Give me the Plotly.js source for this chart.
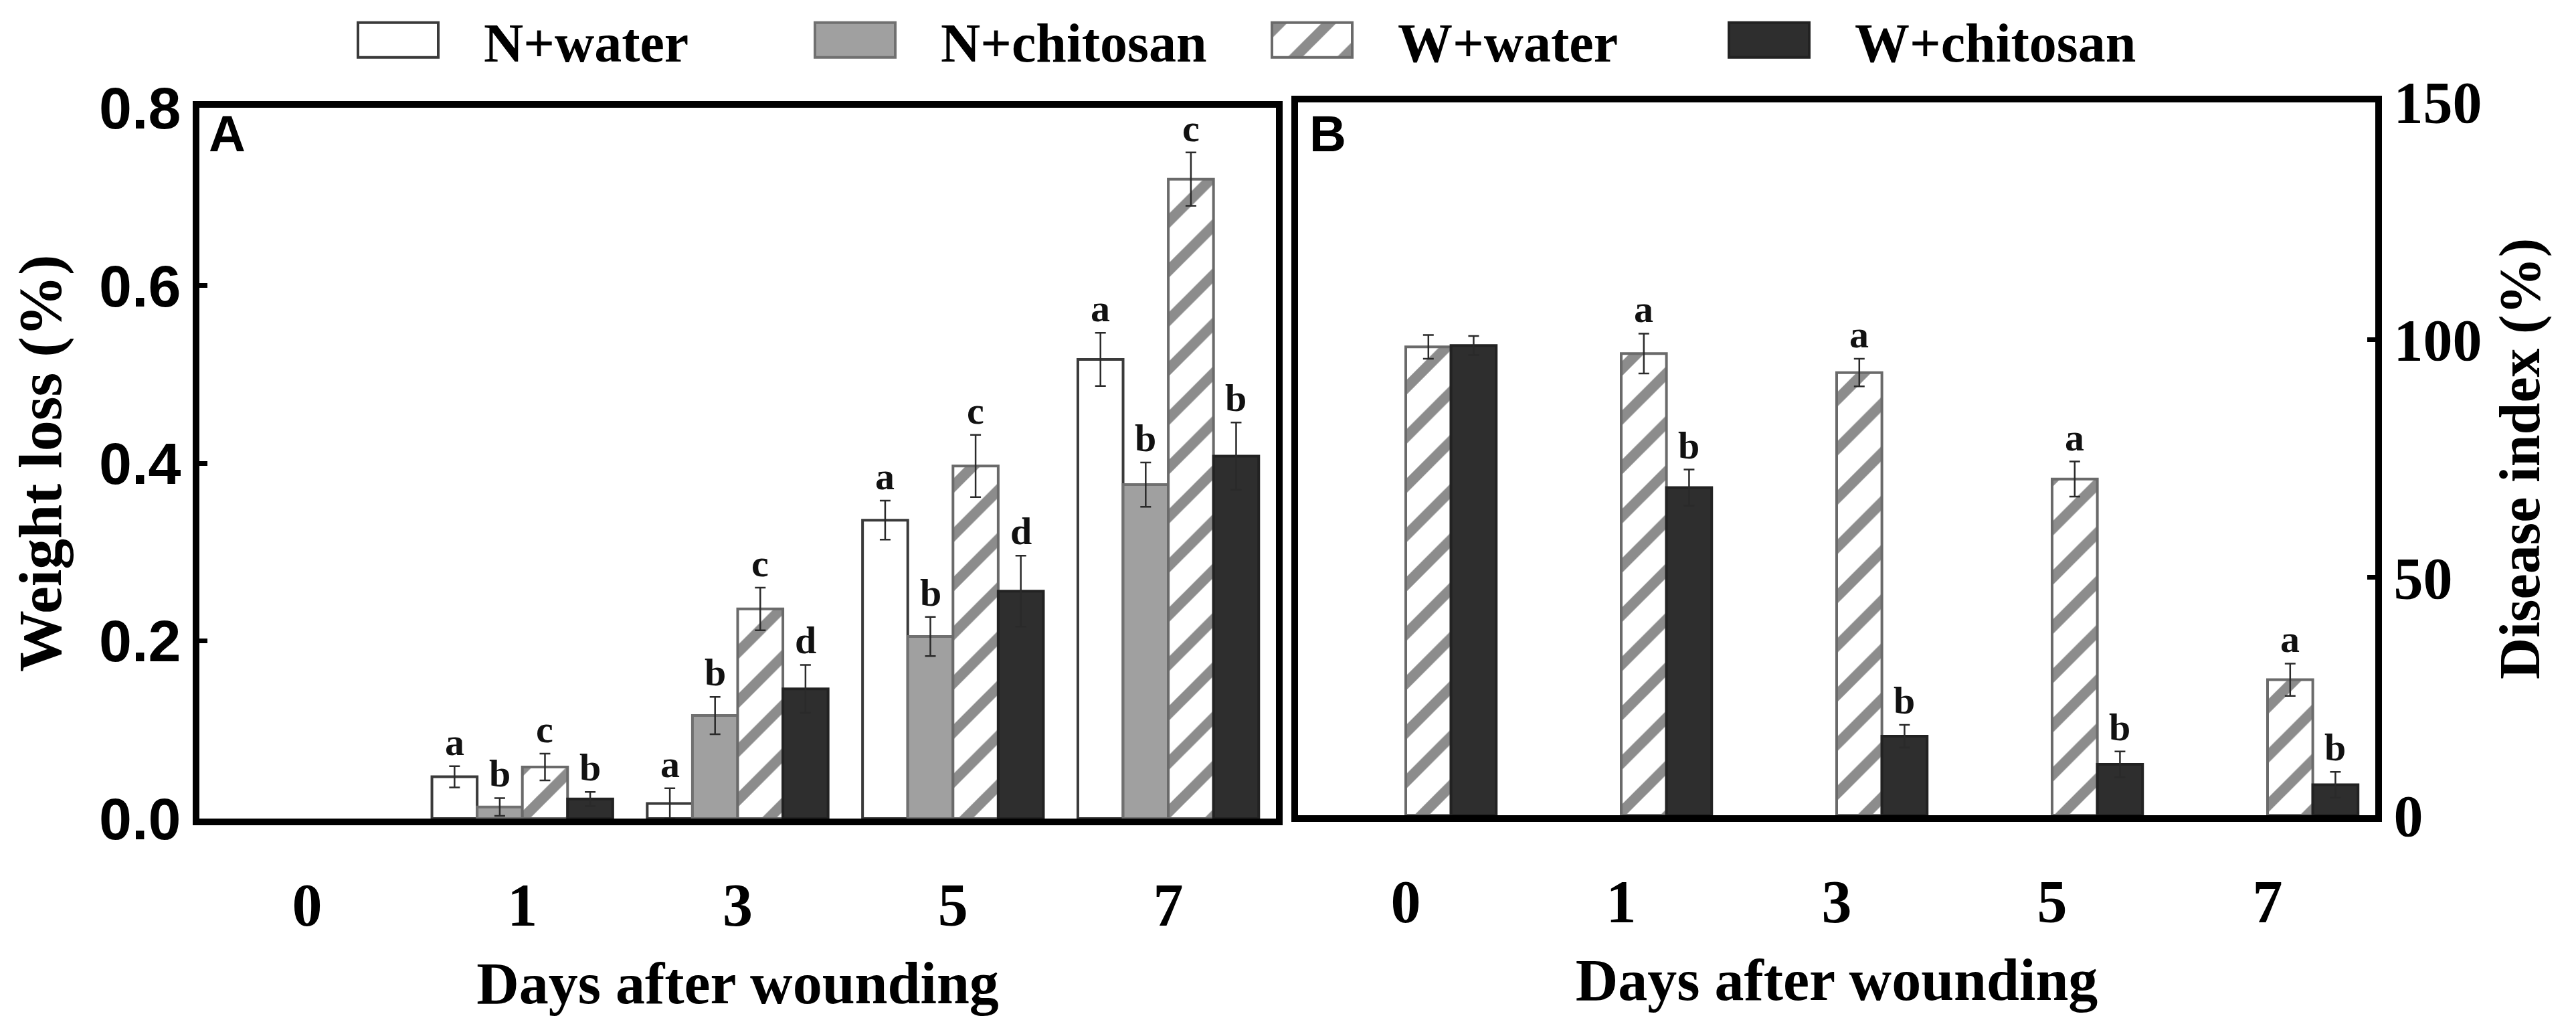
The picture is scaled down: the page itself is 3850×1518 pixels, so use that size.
<!DOCTYPE html>
<html>
<head>
<meta charset="utf-8">
<script src="https://cdn.plot.ly/plotly-3.0.1.min.js"></script>
<style>
  html, body { margin: 0; padding: 0; background: #fff; }
  #chart { width: 3850px; height: 1518px; }
</style>
</head>
<body>
<div id="chart"></div>
<script>
// days after wounding (categories)
var days = ["0", "1", "3", "5", "7"];
var seriesNames = ["N+water", "N+chitosan", "W+water", "W+chitosan"];

// A: weight loss (%), nothing drawn on day 0
var lossNWater = [null, 0.047, 0.017, 0.336, 0.517];
var lossNWaterErr = [null, 0.012, 0.017, 0.022, 0.030];
var lossNChitosan = [null, 0.013, 0.116, 0.205, 0.376];
var lossNChitosanErr = [null, 0.010, 0.021, 0.022, 0.025];
var lossWWater = [null, 0.058, 0.236, 0.397, 0.720];
var lossWWaterErr = [null, 0.015, 0.024, 0.035, 0.030];
var lossWChitosan = [null, 0.022, 0.146, 0.256, 0.408];
var lossWChitosanErr = [null, 0.008, 0.027, 0.040, 0.038];
var lossLetters = [
    ["", "a", "a", "a", "a"],
    ["", "b", "b", "b", "b"],
    ["", "c", "c", "c", "c"],
    ["", "b", "d", "d", "b"]
];

// B: disease index (%), no values for the N groups
var diseaseNWater = [null, null, null, null, null];
var diseaseNChitosan = [null, null, null, null, null];
var diseaseWWater = [98.5, 97.1, 93.1, 70.7, 28.5];
var diseaseWWaterErr = [2.5, 4.2, 2.9, 3.7, 3.4];
var diseaseWChitosan = [98.8, 68.9, 16.6, 10.7, 6.4];
var diseaseWChitosanErr = [2.0, 3.8, 2.4, 2.7, 2.7];
var diseaseLetters = [
    ["", "", "", "", ""],
    ["", "", "", "", ""],
    ["", "a", "a", "a", "a"],
    ["", "b", "b", "b", "b"]
];

var W = 3850, H = 1518;
var serif = "Liberation Serif, Times New Roman, serif";
var sans = "Liberation Sans, Arial, sans-serif";

var fills = ["#ffffff", "#a0a0a0", "#ffffff", "#2e2e2e"];
var edges = ["#3a3a3a", "#707070", "#6a6a6a", "#222222"];
var barGap = 0.16;

function px(x) { return x / W; }
function py(y) { return 1 - y / H; }

function marker(k)
{
    var m = { color: fills[k], line: { color: edges[k], width: 4 } };
    if (k == 2)
    {
        m.pattern = { shape: "/", fgcolor: "#8c8c8c", bgcolor: "#ffffff", size: 52, solidity: 0.3 };
    }
    return m;
}

function errorBar(values)
{
    return { type: "data", array: values, visible: true, color: "#2a2a2a", thickness: 2.5, width: 8 };
}

var lossValues = [lossNWater, lossNChitosan, lossWWater, lossWChitosan];
var lossErrors = [lossNWaterErr, lossNChitosanErr, lossWWaterErr, lossWChitosanErr];
var diseaseValues = [diseaseNWater, diseaseNChitosan, diseaseWWater, diseaseWChitosan];
var diseaseErrors = [[0, 0, 0, 0, 0], [0, 0, 0, 0, 0], diseaseWWaterErr, diseaseWChitosanErr];

var plotData = [];
for (var k = 0; k < 4; k++)
{
    plotData.push({
        type: "bar", name: seriesNames[k], x: days, y: lossValues[k],
        error_y: errorBar(lossErrors[k]),
        marker: marker(k), xaxis: "x", yaxis: "y", hoverinfo: "skip"
    });
}
for (var k = 0; k < 4; k++)
{
    plotData.push({
        type: "bar", name: seriesNames[k], x: days, y: diseaseValues[k],
        error_y: errorBar(diseaseErrors[k]),
        marker: marker(k), xaxis: "x2", yaxis: "y2", showlegend: false, hoverinfo: "skip"
    });
}

// significance letters above the error bars
var annotations = [];
var barWidth = (1 - barGap) / 4;
function addLetters(values, errors, letters, xref, yref)
{
    for (var k = 0; k < 4; k++)
    {
        for (var i = 0; i < days.length; i++)
        {
            if (!letters[k][i]) continue;
            annotations.push({
                xref: xref, yref: yref,
                x: i + (k - 1.5) * barWidth,
                y: values[k][i] + errors[k][i],
                text: letters[k][i], showarrow: false,
                yanchor: "bottom", yshift: 2,
                font: { family: serif, size: 58, weight: "bold", color: "#111" }
            });
        }
    }
}
addLetters(lossValues, lossErrors, lossLetters, "x", "y");
addLetters(diseaseValues, diseaseErrors, diseaseLetters, "x2", "y2");

annotations.push({ xref: "paper", yref: "paper", x: px(310), y: py(150), xanchor: "left", yanchor: "top",
    text: "A", showarrow: false, font: { family: sans, size: 76, weight: "bold", color: "#000" } });
annotations.push({ xref: "paper", yref: "paper", x: px(1955), y: py(150), xanchor: "left", yanchor: "top",
    text: "B", showarrow: false, font: { family: sans, size: 76, weight: "bold", color: "#000" } });

function xAxis(domain, anchor)
{
    return {
        domain: domain, anchor: anchor, type: "category",
        showline: true, linewidth: 10, linecolor: "#000", mirror: true,
        ticks: "", showgrid: false, zeroline: false,
        tickfont: { family: serif, size: 90, weight: "bold", color: "#000" },
        ticklabelstandoff: 42,
        title: { text: "Days after wounding", standoff: 40,
            font: { family: serif, size: 88, weight: "bold", color: "#000" } }
    };
}

var layout = {
    width: W, height: H,
    margin: { l: 0, r: 0, t: 0, b: 0 },
    paper_bgcolor: "#fff", plot_bgcolor: "#fff",
    barmode: "group", bargap: barGap, bargroupgap: 0,
    showlegend: true,
    legend: {
        orientation: "h", x: px(467), xanchor: "left", y: py(55), yanchor: "middle",
        font: { family: serif, size: 82, weight: "bold", color: "#000" },
        itemwidth: 246, entrywidth: 422, entrywidthmode: "pixels",
        bgcolor: "rgba(0,0,0,0)", traceorder: "normal"
    },
    xaxis: xAxis([px(298), px(1907)], "y"),
    xaxis2: xAxis([px(1940), px(3550)], "y2"),
    yaxis: {
        domain: [py(1222), py(157)], anchor: "x", range: [0, 0.8], dtick: 0.2, tickformat: ".1f",
        showline: true, linewidth: 10, linecolor: "#000", mirror: true,
        ticks: "inside", ticklen: 12, tickwidth: 7, tickcolor: "#000",
        showgrid: false, zeroline: false,
        tickfont: { family: sans, size: 88, weight: "bold", color: "#000" },
        title: { text: "Weight loss (%)", standoff: 30,
            font: { family: serif, size: 92, weight: "bold", color: "#000" } }
    },
    yaxis2: {
        domain: [py(1217), py(148)], anchor: "x2", side: "right", range: [0, 150], dtick: 50,
        showline: true, linewidth: 10, linecolor: "#000", mirror: true,
        ticks: "inside", ticklen: 12, tickwidth: 7, tickcolor: "#000",
        showgrid: false, zeroline: false,
        tickfont: { family: serif, size: 88, weight: "bold", color: "#000" },
        title: { text: "Disease index (%)", standoff: 30,
            font: { family: serif, size: 86, weight: "bold", color: "#000" } }
    },
    annotations: annotations
};

var config = { staticPlot: true, displayModeBar: false };

Plotly.newPlot("chart", plotData, layout, config).then(function (gd)
{
    // widen the legend swatches to the boxes used in the figure
    var legendItems = gd.querySelectorAll(".legend .traces");
    var barTraces = gd.querySelectorAll(".barlayer .trace");
    legendItems.forEach(function (item, k)
    {
        var swatch = item.querySelector(".legendpoints path");
        if (!swatch) return;
        swatch.setAttribute("d", "M60,26H-60V-26H60Z");
        // reuse the bar's own stripe fill so the swatch shows the same hatching
        var bar = barTraces[k] ? barTraces[k].querySelector(".point path") : null;
        if (bar && bar.style.fill && bar.style.fill.indexOf("url") >= 0)
        {
            swatch.style.fill = bar.style.fill;
        }
    });
});
</script>
</body>
</html>
